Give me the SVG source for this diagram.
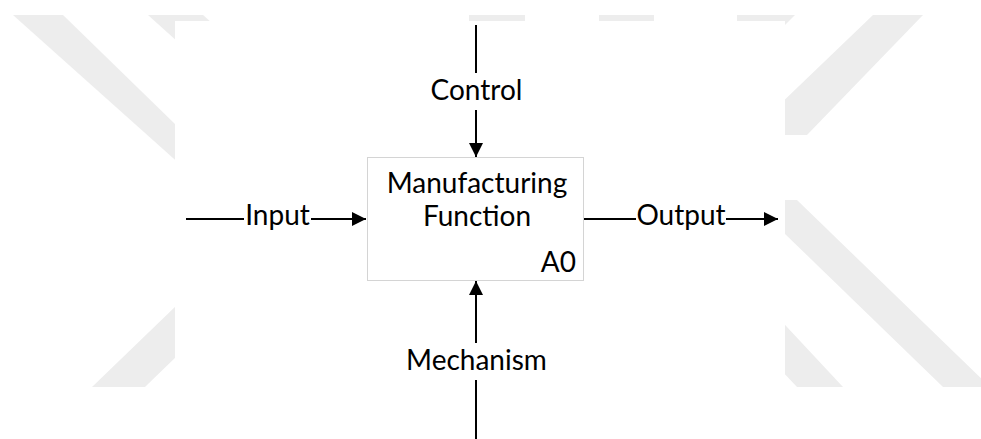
<svg xmlns="http://www.w3.org/2000/svg" width="981" height="439" viewBox="0 0 981 439">
  <style>
    .wm { fill: #ededed; stroke: none; }
    .lbl { font-family: "Lato", "Liberation Sans", sans-serif; font-size: 28px; fill: #000; }
    .mid { text-anchor: middle; }
    .wire { stroke: #000; stroke-width: 2; fill: none; }
    .box { fill: #fff; stroke: #d4d4d4; stroke-width: 1; }
  </style>
  <defs>
    <marker id="arrow" markerUnits="userSpaceOnUse" markerWidth="15" markerHeight="15" refX="14" refY="7" orient="auto">
      <path d="M0,0 L14,7 L0,14 z" fill="#000"/>
    </marker>
  </defs>
  <rect x="0" y="0" width="981" height="439" fill="#fff"/>
  <g id="watermark">
    <polygon class="wm" points="13,15 63,15 253,200 220,200"/>
    <polygon class="wm" points="148,15 203,15 253,60 198,60"/>
    <polygon class="wm" points="92,387 145,387 286,250 234,250"/>
    <polygon class="wm" points="469,15 525,15 525,25 469,25"/>
    <polygon class="wm" points="599,15 654,15 654,25 599,25"/>
    <polygon class="wm" points="737,15 795,15 780,30 737,30"/>
    <polygon class="wm" points="873,15 923,15 807,135 748,135"/>
    <polygon class="wm" points="750,200 797,200 990,387 943,387"/>
    <polygon class="wm" points="696,280 743,280 843,387 797,387"/>
    <rect x="175" y="21" width="610" height="418" fill="#fff"/>
  </g>
  <g id="connectors">
    <line class="wire" x1="476" y1="25" x2="476" y2="73"/>
    <line class="wire" x1="476" y1="110" x2="476" y2="157" marker-end="url(#arrow)"/>
    <line class="wire" x1="476" y1="439" x2="476" y2="380"/>
    <line class="wire" x1="476" y1="343" x2="476" y2="281" marker-end="url(#arrow)"/>
    <line class="wire" x1="186" y1="219" x2="244" y2="219"/>
    <line class="wire" x1="311" y1="219" x2="366" y2="219" marker-end="url(#arrow)"/>
    <line class="wire" x1="584" y1="219" x2="636" y2="219"/>
    <line class="wire" x1="726" y1="219" x2="778" y2="219" marker-end="url(#arrow)"/>
  </g>
  <g id="node-a0">
    <rect class="box" x="367.5" y="157.5" width="216" height="123"/>
    <text class="lbl mid" x="477" y="193">Manufacturing</text>
    <text class="lbl mid" x="477" y="226">Function</text>
    <text class="lbl" x="576" y="272" text-anchor="end">A0</text>
  </g>
  <g id="label-control"><text class="lbl mid" x="476.5" y="100">Control</text></g>
  <g id="label-mechanism"><text class="lbl mid" x="476.5" y="370">Mechanism</text></g>
  <g id="label-input"><text class="lbl mid" x="277.5" y="225">Input</text></g>
  <g id="label-output"><text class="lbl mid" x="681" y="225">Output</text></g>
</svg>
